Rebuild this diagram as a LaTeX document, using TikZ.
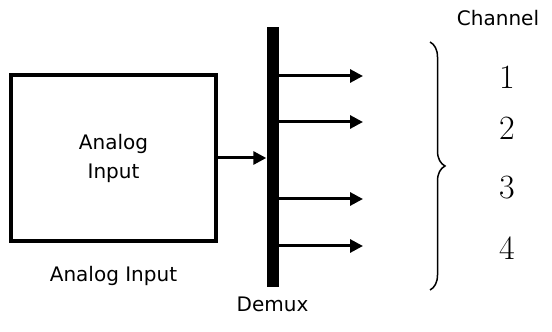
\documentclass[tikz,border=0pt]{standalone}
\usepackage{fontspec}
\newfontfamily\blockfont{DejaVu Sans}
\usetikzlibrary{arrows.meta,positioning,decorations.pathreplacing}

\begin{document}
\begin{tikzpicture}[
    x=1pt, y=1pt,
    block/.style={rectangle, draw=black, line width=3.5pt, minimum width=205pt, minimum height=166pt, align=center, font=\blockfont\fontsize{20}{29}\selectfont},
    bar/.style={rectangle, fill=black, minimum width=12pt, minimum height=260pt, inner sep=0pt},
    caption/.style={font=\blockfont\fontsize{20}{24}\selectfont},
    chan/.style={font=\fontsize{34}{40}\selectfont},
    sig/.style={-{Triangle[length=13pt,width=13pt]}, line width=3pt}
]
\useasboundingbox (0,0) rectangle (552,332);

\node (analog) [block] at (113.5,174) {Analog\\Input};
\node (demux) [bar] at (272.5,175) {};
\node (analoglabel) [caption, below=20pt of analog] {Analog Input};
\node (demuxlabel) [caption, below=6pt of demux] {Demux};
\node (channel) [caption] at (498,314) {Channel};

\draw[sig] (analog.east) -- (demux.west |- analog.east);

% outputs of the demux
\foreach \n/\y in {1/256,2/210,3/133,4/86} {
    \coordinate (out\n) at (363,\y);
    \draw[sig] (demux.east |- out\n) -- (out\n);
}
\foreach \n/\y in {1/255,2/204,3/144,4/84}
    \node (ch\n) [chan] at (507,\y) {\n};

\coordinate (bracetop) at (430,290);
\coordinate (bracebot) at (430,42);
\draw[line width=1.5pt, decorate, decoration={brace, amplitude=15pt}] (bracetop) -- (bracebot);
\end{tikzpicture}
\end{document}
